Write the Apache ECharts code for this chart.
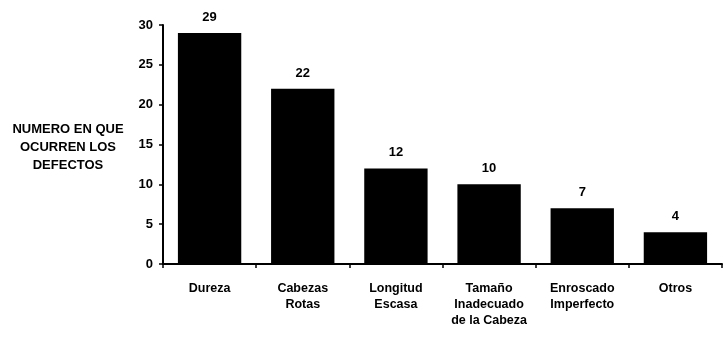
<!DOCTYPE html>
<html>
<head>
<meta charset="utf-8">
<script src="https://cdn.jsdelivr.net/npm/echarts@6/dist/echarts.min.js"></script>
<style>
  html, body { margin: 0; padding: 0; background: #fff; }
  #chart { width: 723px; height: 338px; }
</style>
</head>
<body>
<div id="chart"></div>
<script>
// categorias de defectos
var categories = ['Dureza', 'Cabezas\nRotas', 'Longitud\nEscasa', 'Tamaño\nInadecuado\nde la Cabeza', 'Enroscado\nImperfecto', 'Otros']
var defectCounts = [29, 22, 12, 10, 7, 4]
var yTicks = [0, 5, 10, 15, 20, 25, 30]
var yTitle = 'NUMERO EN QUE\nOCURREN LOS\nDEFECTOS'

var font = '"Liberation Sans", Arial, sans-serif'
var chart = echarts.init(document.getElementById('chart'))

chart.setOption({
  backgroundColor: '#fff',
  animation: false,
  grid: {
    left: 163,
    right: 1,
    top: 25,
    bottom: 74
  },
  graphic: [
    {
      type: 'text',
      x: 68,
      y: 120,
      style: {
        text: yTitle,
        fill: '#000',
        font: 'bold 13px ' + font,
        textAlign: 'center',
        lineHeight: 18
      }
    }
  ],
  xAxis: {
    type: 'category',
    data: categories,
    axisLine: { lineStyle: { color: '#000', width: 2 } },
    axisTick: { show: true, length: 4, lineStyle: { color: '#000', width: 1.5 } },
    axisLabel: {
      color: '#000',
      fontFamily: font,
      fontWeight: 'bold',
      fontSize: 12.5,
      lineHeight: 16,
      margin: 17,
      interval: 0
    }
  },
  yAxis: {
    type: 'value',
    min: yTicks[0],
    max: yTicks[yTicks.length - 1],
    interval: 5,
    axisLine: { show: true, lineStyle: { color: '#000', width: 2 } },
    axisTick: { show: true, length: 4, lineStyle: { color: '#000', width: 1.5 } },
    splitLine: { show: false },
    axisLabel: {
      color: '#000',
      fontFamily: font,
      fontWeight: 'bold',
      fontSize: 13,
      margin: 10
    }
  },
  series: [
    {
      type: 'bar',
      data: defectCounts,
      barCategoryGap: '32%',
      itemStyle: { color: '#000' },
      label: {
        show: true,
        position: 'top',
        distance: 9,
        color: '#000',
        fontFamily: font,
        fontWeight: 'bold',
        fontSize: 13
      }
    }
  ]
})
</script>
</body>
</html>
